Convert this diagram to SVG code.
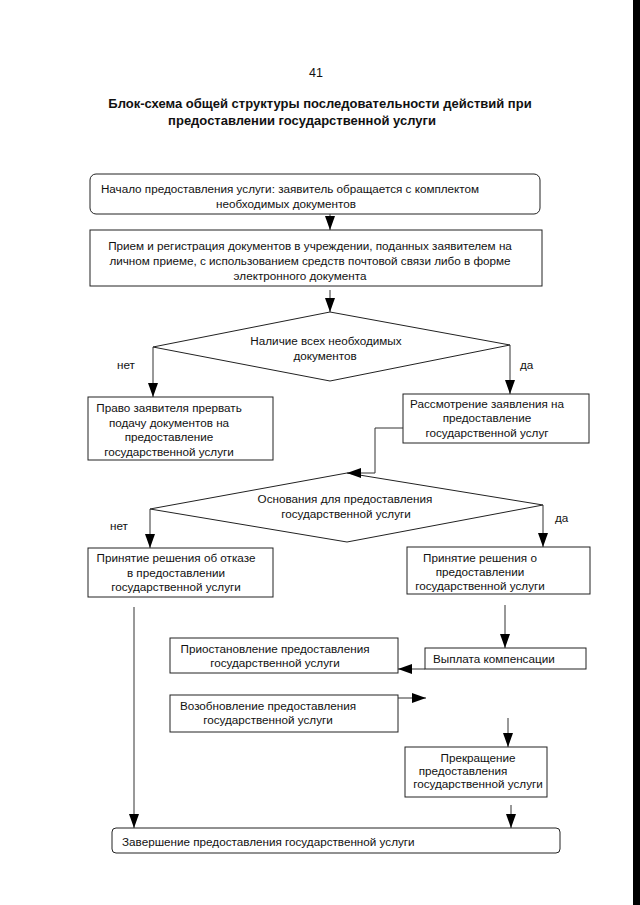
<svg xmlns="http://www.w3.org/2000/svg" width="640" height="905" viewBox="0 0 640 905">
<style>
  text { font-family: "Liberation Sans", Arial, sans-serif; font-size: 11.7px; fill: #111; }
  .t { font-weight: bold; font-size: 13px; }
  .pg { font-size: 12.5px; }
  .m { text-anchor: middle; }
  .box { fill: #fff; stroke: #222; stroke-width: 1; }
  .con { fill: none; stroke: #333; stroke-width: 1; }
</style>
<defs>
  <marker id="ah" markerUnits="userSpaceOnUse" markerWidth="15" markerHeight="11" refX="14" refY="5" orient="auto">
    <path d="M0,0 L14,5 L0,10 z" fill="#000"/>
  </marker>
</defs>
<rect x="0" y="0" width="640" height="905" fill="#fff"/>
<rect x="633" y="0" width="7" height="905" fill="#000"/>

<text class="pg m" x="316" y="77">41</text>
<text class="t m" x="320" y="108">Блок-схема общей структуры последовательности действий при</text>
<text class="t m" x="302" y="125">предоставлении государственной услуги</text>

<g id="start">
  <rect class="box" x="90" y="174" width="450" height="40" rx="6"/>
  <text class="m" x="290" y="193">Начало предоставления услуги: заявитель обращается с комплектом</text>
  <text class="m" x="286" y="208">необходимых документов</text>
</g>
<g id="reception">
  <rect class="box" x="90" y="230" width="452" height="56"/>
  <text class="m" x="310" y="250">Прием и регистрация документов в учреждении, поданных заявителем на</text>
  <text class="m" x="310" y="265">личном приеме, с использованием средств почтовой связи либо в форме</text>
  <text class="m" x="300" y="280">электронного документа</text>
</g>
<g id="decision1">
  <polygon class="box" points="330,312 510,345 330,381 153,347"/>
  <text class="m" x="326" y="345">Наличие всех необходимых</text>
  <text class="m" x="325" y="360">документов</text>
</g>
<g id="refuse-right">
  <rect class="box" x="88" y="397" width="185" height="63"/>
  <text class="m" x="169" y="412">Право заявителя прервать</text>
  <text class="m" x="169" y="427">подачу документов на</text>
  <text class="m" x="169" y="441">предоставление</text>
  <text class="m" x="169" y="456">государственной услуги</text>
</g>
<g id="review">
  <rect class="box" x="403" y="394" width="186" height="49"/>
  <text class="m" x="487" y="408">Рассмотрение заявления на</text>
  <text class="m" x="487" y="422">предоставление</text>
  <text class="m" x="487" y="437">государственной услуг</text>
</g>
<g id="decision2">
  <polygon class="box" points="347,473 543,505 347,542 150,509"/>
  <text class="m" x="345" y="503">Основания для предоставления</text>
  <text class="m" x="346" y="518">государственной услуги</text>
</g>
<g id="deny">
  <rect class="box" x="88" y="548" width="185" height="49"/>
  <text class="m" x="176" y="562">Принятие решения об отказе</text>
  <text class="m" x="176" y="577">в предоставлении</text>
  <text class="m" x="176" y="591">государственной услуги</text>
</g>
<g id="grant">
  <rect class="box" x="407" y="547" width="183" height="47"/>
  <text class="m" x="480" y="562">Принятие решения о</text>
  <text class="m" x="480" y="576">предоставлении</text>
  <text class="m" x="480" y="590">государственной услуги</text>
</g>
<g id="payment">
  <rect class="box" x="425" y="648" width="161" height="21"/>
  <text x="433" y="663">Выплата компенсации</text>
</g>
<g id="suspend">
  <rect class="box" x="170" y="638" width="228" height="35"/>
  <text class="m" x="275" y="653">Приостановление предоставления</text>
  <text class="m" x="275" y="667">государственной услуги</text>
</g>
<g id="resume">
  <rect class="box" x="170" y="695" width="228" height="37"/>
  <text class="m" x="268" y="710">Возобновление предоставления</text>
  <text class="m" x="268" y="724">государственной услуги</text>
</g>
<g id="terminate">
  <rect class="box" x="405" y="747" width="142" height="50"/>
  <text class="m" x="478" y="762">Прекращение</text>
  <text class="m" x="463" y="775">предоставления</text>
  <text class="m" x="478" y="788">государственной услуги</text>
</g>
<g id="finish">
  <rect class="box" x="112" y="828" width="448" height="25" rx="4"/>
  <text x="122" y="846">Завершение предоставления государственной услуги</text>
</g>

<g id="connectors">
  <line class="con" x1="330" y1="214" x2="330" y2="230" marker-end="url(#ah)"/>
  <line class="con" x1="330" y1="290" x2="330" y2="312" marker-end="url(#ah)"/>
  <line class="con" x1="153" y1="347" x2="153" y2="397" marker-end="url(#ah)"/>
  <line class="con" x1="510" y1="345" x2="510" y2="394" marker-end="url(#ah)"/>
  <polyline class="con" points="403,428 375,428 375,473 347,473" marker-end="url(#ah)"/>
  <line class="con" x1="150" y1="509" x2="150" y2="548" marker-end="url(#ah)"/>
  <line class="con" x1="543" y1="505" x2="543" y2="547" marker-end="url(#ah)"/>
  <line class="con" x1="134" y1="607" x2="134" y2="828" marker-end="url(#ah)"/>
  <line class="con" x1="505" y1="605" x2="505" y2="648" marker-end="url(#ah)"/>
  <line class="con" x1="425" y1="669" x2="398" y2="669" marker-end="url(#ah)"/>
  <line class="con" x1="398" y1="698" x2="426" y2="698" marker-end="url(#ah)"/>
  <line class="con" x1="508" y1="718" x2="508" y2="747" marker-end="url(#ah)"/>
  <line class="con" x1="511" y1="805" x2="511" y2="828" marker-end="url(#ah)"/>
  <text x="117" y="369">нет</text>
  <text x="520" y="369">да</text>
  <text x="110" y="530">нет</text>
  <text x="555" y="522">да</text>
</g>
</svg>
